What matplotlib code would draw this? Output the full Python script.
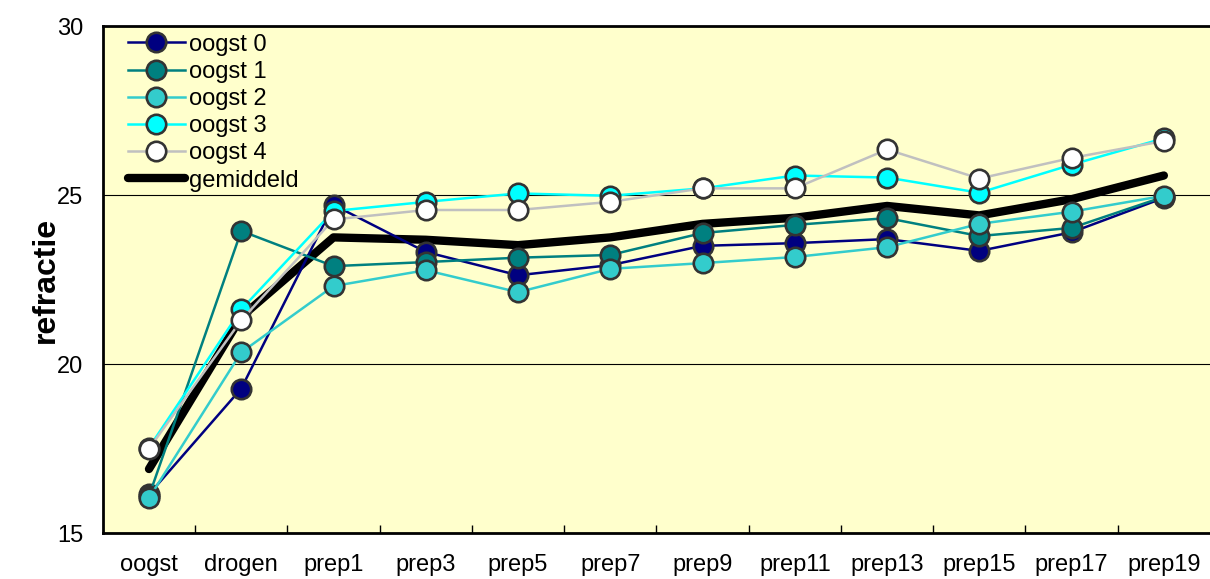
import matplotlib.pyplot as plt
import numpy as np

plt.rcParams['font.family'] = ['Liberation Sans', 'DejaVu Sans']

categories = ['oogst', 'drogen', 'prep1', 'prep3', 'prep5', 'prep7',
              'prep9', 'prep11', 'prep13', 'prep15', 'prep17', 'prep19']

oogst0 = [16.15, 19.28, 24.71, 23.32, 22.63, 22.93, 23.50, 23.58, 23.70, 23.35, 23.90, 24.92]
oogst1 = [16.10, 23.94, 22.90, 23.02, 23.15, 23.23, 23.88, 24.12, 24.32, 23.79, 24.03, 24.95]
oogst2 = [16.04, 20.35, 22.31, 22.78, 22.13, 22.82, 22.99, 23.17, 23.46, 24.15, 24.51, 24.98]
oogst3 = [17.53, 21.62, 24.53, 24.80, 25.05, 24.98, 25.20, 25.58, 25.52, 25.07, 25.90, 26.68]
oogst4 = [17.50, 21.30, 24.28, 24.56, 24.56, 24.80, 25.20, 25.20, 26.35, 25.49, 26.10, 26.60]
gemiddeld = [16.90, 21.40, 23.75, 23.68, 23.52, 23.75, 24.15, 24.33, 24.68, 24.40, 24.88, 25.58]

series = [
    ('oogst 0', oogst0, '#000080', '#000080'),
    ('oogst 1', oogst1, '#008080', '#008080'),
    ('oogst 2', oogst2, '#33CCCC', '#33CCCC'),
    ('oogst 3', oogst3, '#00FFFF', '#00FFFF'),
    ('oogst 4', oogst4, '#C0C0C0', '#FFFFFF'),
]

fig = plt.figure(figsize=(12.1, 5.79), dpi=100)
ax = fig.add_axes([0.085, 0.079, 0.915, 0.876])
ax.set_facecolor('#FFFFCC')

x = np.arange(len(categories))
for name, vals, lc, fc in series:
    ax.plot(x, vals, color=lc, lw=1.8, marker='o', ms=14,
            mfc=fc, mec='#333333', mew=1.9, label=name, zorder=3)
ax.plot(x, gemiddeld, color='black', lw=6, solid_capstyle='round',
        label='gemiddeld', zorder=2)

ax.set_xlim(-0.5, len(categories) - 0.5)
ax.set_ylim(15, 30)
ax.set_yticks([15, 20, 25, 30])
ax.set_xticks(x)
ax.set_xticklabels(categories)
ax.set_xticks(x[:-1] + 0.5, minor=True)
ax.tick_params(axis='x', which='major', length=0, pad=15, labelsize=17)
ax.tick_params(axis='x', which='minor', direction='in', length=6, width=1)
ax.tick_params(axis='y', length=0, pad=14, labelsize=17)
ax.yaxis.grid(True, color='black', lw=0.8)
ax.set_axisbelow(True)

for side in ['left', 'bottom', 'top']:
    ax.spines[side].set_linewidth(2)
ax.spines['right'].set_visible(False)

ax.set_ylabel('refractie', fontsize=23, fontweight='bold', labelpad=-3)

ax.legend(loc='upper left', frameon=False, fontsize=17, handlelength=2.4,
          handletextpad=0.2, labelspacing=0.22, borderaxespad=0.2,
          bbox_to_anchor=(0.01, 1.013))

fig.savefig('out.png', dpi=100)
